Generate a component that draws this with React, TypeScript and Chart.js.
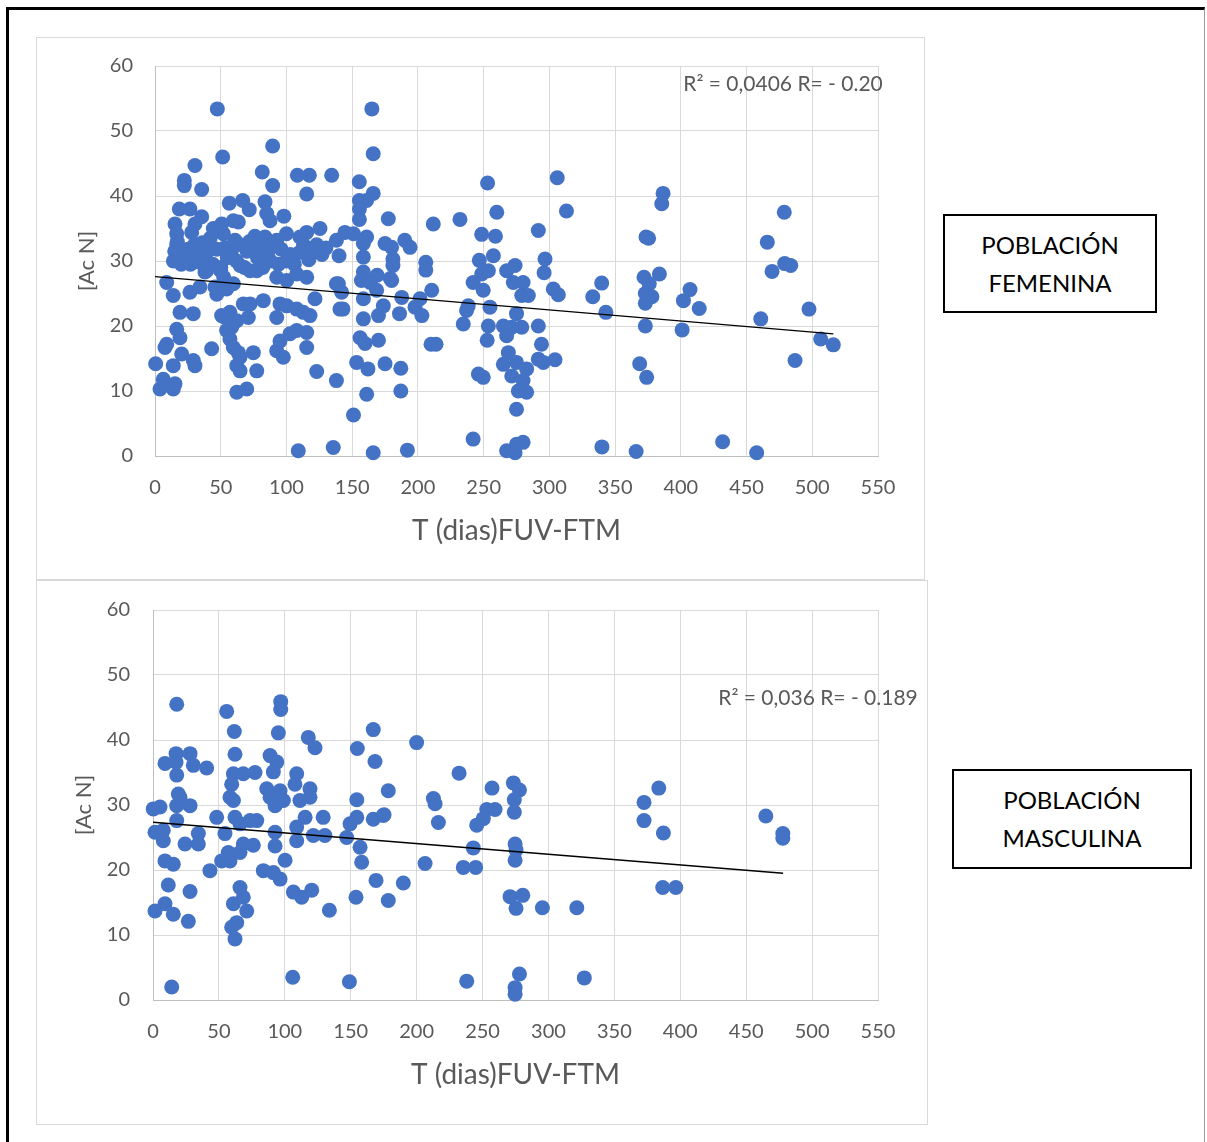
import React, { useEffect, useRef } from "react";
import { Chart, registerables } from "chart.js";

Chart.register(...registerables);

// ---------- DATA ----------
const xTickValues = [0, 50, 100, 150, 200, 250, 300, 350, 400, 450, 500, 550];
const yTickValues = [0, 10, 20, 30, 40, 50, 60];

const xAxisTitle = "T (dias)FUV-FTM";
const yAxisTitle = "[Ac N]";

const femNote = "R² = 0,0406 R= - 0.20";
const masNote = "R² = 0,036 R= - 0.189";
const femLabel = ["POBLACIÓN", "FEMENINA"];
const masLabel = ["POBLACIÓN", "MASCULINA"];

// Población femenina: T (días) and [Ac N]
const femX = [
  0.5, 3.8, 6.3, 13.9, 15.2, 7.6, 8.9, 13.9, 20.3, 29.1, 30.4, 16.5, 19, 8.9, 13.9, 19, 29.1, 26.6, 34.2,
  18.5, 26.6, 15.2, 16.5, 16.5, 27.9, 30.4, 35.5, 22.3, 22.3, 35.5, 30.4, 47.4, 51.5, 89.5, 81.6, 89.5,
  108.3, 117.4, 134.4, 115.4, 56.5, 66.7, 71.7, 83.7, 85, 87.5, 98, 44.4, 50.7, 59.6, 63.4, 52, 60.9, 57,
  76, 83.7, 92.6, 100, 110.3, 115.4, 125.5, 138,
  14, 15, 17, 20, 23, 25, 27, 30, 32, 34, 36, 38, 40, 42, 38, 44, 47, 50, 53, 55, 58, 62, 65, 68, 70, 72,
  78, 80, 82, 86, 88, 90, 94, 96, 100, 103, 106, 110, 113, 117, 120, 123, 127, 130,
  39.3, 50, 52.3, 64.7, 72.3, 77.4, 92.6, 100.2, 107.8, 115.4, 138, 47, 45.6, 54.5, 59.6,
  54.5, 57, 62.2, 71, 67.2, 72.3, 82.4, 92.6, 95.1, 100.2, 107.8, 112.8, 117.9, 121.7, 140.7,
  54.5, 57, 59.6, 63.4, 64.7, 62.2, 64.7, 77.4, 74.8, 53.3, 50.7, 58.3, 92.6, 97.6, 95.1, 102.7, 107.8,
  115.4, 115.4, 123, 43.1, 62.2, 69.8, 109, 135.6, 138,
  165, 166, 155.4, 166, 161, 155.5, 155.5, 155.5, 177.5, 211.7, 144.5, 151, 161, 140, 158.5, 158.5, 175,
  180, 190, 194, 181, 181, 179, 180, 206, 206, 210.5, 201.6, 197.8, 203, 187.7, 186, 169, 158.5, 157,
  163.6, 168.6, 158.5, 173.7, 170, 158.5, 143, 139.5, 142, 156, 159.8, 170, 153.4, 162, 175, 187, 161,
  187, 151, 166, 192, 213.8, 210,
  232, 260, 313, 291.6, 248.5, 259, 253, 306, 246.7, 248.5, 257.4, 253.6, 242, 249.7, 254.8, 238.3, 237,
  234.5, 253.6, 252.7, 246, 249.7, 242,
  267.5, 273.9, 272.6, 280, 279, 284, 275, 265, 271.4, 279, 267.5, 268.8, 265, 275, 282.7, 271.4, 280,
  276.4, 282.7, 275, 280, 275, 267.5, 273.9,
  291.6, 294, 291.6, 304.3, 295.4, 296.7, 296, 303, 306.8,
  339.8, 333, 343, 340, 366, 368.7, 374, 372, 383.7, 376, 373, 378, 373, 373, 373.5, 375.5, 386.5, 385.5,
  401, 407, 402, 414, 431.8, 457.7, 460.8, 465.8, 469.4, 478.7, 479, 483.6, 486.9, 497.5, 506.4, 516,
];
const femY = [
  14.2, 10.3, 11.8, 10.3, 11.1, 16.7, 17.2, 13.9, 15.7, 14.7, 13.9, 19.5, 18.2, 26.7, 24.7, 22.1, 21.9, 25.2, 26,
  38, 38, 35.7, 34.2, 32.6, 34.4, 35.7, 36.8, 42.4, 41.6, 41, 44.7, 53.4, 46, 47.7, 43.7, 41.6,
  43.2, 43.2, 43.2, 40.3, 38.9, 39.3, 37.9, 39.1, 37.3, 36.2, 36.9, 35, 35.7, 36.2, 36, 34.2, 33.2, 32.1,
  33.8, 33.7, 33.2, 34.2, 33.7, 34.4, 35, 33.2,
  30, 31.5, 33, 29.5, 30.5, 31.8, 29.5, 32.5, 31, 29.8, 32.8, 30, 31.5, 33.5, 28.3, 29.5, 31.8, 29, 32, 30.5,
  31, 30, 32.5, 29, 31.5, 33, 30.5, 32, 29, 31.5, 30, 32.5, 29.5, 31.8, 30, 31, 29.5, 31.3, 32.5, 30.2, 31.5,
  32.5, 31, 32,
  28.5, 28.5, 27.5, 29.3, 28.5, 28.5, 27.5, 27, 28, 27.5, 26.5, 24.9, 26, 25.7, 26.5,
  21.6, 22.1, 20.8, 21.3, 23.4, 23.4, 23.9, 21.3, 23.4, 23.1, 22.6, 22.1, 21.6, 24.2, 22.6,
  19.3, 18, 16.7, 15.9, 15.2, 13.9, 13.1, 13.1, 15.9, 21.3, 21.6, 19.8, 16.2, 15.2, 17.7, 18.8, 19.3,
  19, 16.7, 13, 16.5, 9.8, 10.3, 0.8, 1.3, 11.6,
  53.4, 46.5, 42.2, 40.4, 39.3, 39.3, 38, 36.4, 36.5, 35.7, 34.4, 34.2, 33.7, 30.8, 32.7, 30.6, 32.7,
  32.1, 33.2, 32.1, 30.3, 29.3, 27.3, 27, 29.8, 28.6, 25.5, 24.2, 22.9, 21.6, 24.4, 21.9, 27.8, 28.3, 27,
  26.7, 25.5, 24.2, 23.1, 21.6, 21.1, 22.6, 26.5, 25.2, 18.2, 17.3, 17.8, 14.4, 13.4, 14.2, 13.5, 9.5,
  10, 6.3, 0.5, 0.9, 17.2, 17.2,
  36.4, 37.5, 37.7, 34.7, 34.1, 33.8, 42, 42.8, 30.1, 28, 30.8, 28.5, 26.7, 25.5, 22.9, 23.1, 22.4,
  20.3, 20, 17.8, 12.6, 12.1, 2.6,
  28.5, 29.3, 26.7, 26.7, 24.7, 24.7, 21.9, 20, 19.8, 19.8, 18.5, 15.9, 14.1, 14.4, 13.4, 12.3, 11.6,
  10, 9.8, 7.2, 2.1, 1.8, 0.8, 0.5,
  20, 17.2, 14.9, 14.8, 14.4, 30.3, 28.2, 25.7, 24.8,
  26.6, 24.5, 22.1, 1.4, 0.7, 14.2, 12.1, 27.5, 28, 26.5, 25, 24.5, 23.5, 20, 33.7, 33.5, 40.4, 38.8,
  19.4, 25.6, 23.9, 22.7, 2.2, 0.5, 21.1, 32.9, 28.4, 37.5, 29.6, 29.3, 14.7, 22.6, 18, 17.1,
];
const femTrendX = [0, 516];
const femTrendY = [27.6, 18.8];

// Población masculina
const masX = [
  18, 55.9, 61.7, 96.9, 96.9, 95.1, 117.8, 122.9, 155, 167.1, 168.4, 178.5,
  17.5, 28.1, 9.1, 17.5, 30.6, 40.7, 18,
  62.2, 61, 68.5, 77.4, 59.7, 88.8, 93.9, 91.3, 109, 107.7, 119.1, 86.3, 96.4, 19.2, 154.6,
  0.2, 5.3, 18, 28.1, 20.5, 18, 1.5, 7.8, 7.8, 24.3, 34.4, 34.4, 48.3, 54.6, 62.2, 66, 73.6, 78.7, 61, 58.4,
  9.1, 15.4, 43.2, 52.1, 57.1, 58.4, 66, 68.5, 76.1,
  11.6, 28.1, 9.1, 1.5, 15.4, 26.8, 66, 61, 68.5, 71.1, 63.5, 59.7, 62.2, 14.2,
  83.7, 91.3, 96.4, 100.2,
  92.6, 92.6, 92.6, 88.8, 98.9, 111.5, 119.1, 109, 121.6, 130.4, 109, 115.4, 129.1, 146.9, 149.5, 157.1,
  158.3, 154.6, 167.1, 174.7,
  106.5, 112.8, 120.4, 133.8, 154, 169.2, 178.5, 106, 149,
  200, 232.2, 175.3, 212.7, 214, 216.5, 206.4, 189.9,
  257.2, 253.2, 259.5, 250.6, 245.6, 243, 235.4, 244.8,
  273.4, 278, 274.1, 274.1, 274.7, 275.4, 274.7, 270.9, 280.5, 275.4, 295.4, 321.5, 238, 278, 274.7, 274.7, 327.2,
  372.5, 372.5, 383.7, 387.2, 386.7, 396.6, 464.9, 477.8, 477.8,
];
const masY = [
  45.5, 44.4, 41.3, 45.9, 44.7, 41.1, 40.4, 38.8, 38.7, 41.6, 36.7, 32.2,
  37.9, 37.9, 36.4, 36.6, 36.1, 35.7, 34.6,
  37.8, 34.8, 34.8, 35, 33.2, 37.6, 36.6, 35.1, 34.8, 33.2, 32.5, 32.5, 32.2, 31.7, 30.8,
  29.4, 29.7, 29.9, 29.9, 31.2, 27.6, 25.8, 26.1, 24.5, 24, 25.6, 24, 28.1, 25.6, 28.1, 27.1, 27.6, 27.6, 30.7, 31.2,
  21.4, 20.9, 19.9, 21.4, 22.7, 21.4, 22.7, 24, 23.8,
  17.7, 16.7, 14.8, 13.7, 13.2, 12.1, 17.3, 14.8, 15.8, 13.7, 11.9, 11.2, 9.4, 2,
  19.9, 19.6, 18.6, 21.5,
  25.8, 23.7, 29.9, 31.2, 30.7, 30.7, 31.2, 24.5, 25.3, 25.3, 26.6, 28.1, 28.1, 25, 27.1, 23.5,
  21.2, 28.1, 27.8, 28.4,
  16.6, 15.8, 16.9, 13.8, 15.8, 18.4, 15.3, 3.5, 2.8,
  39.6, 34.9, 28.5, 31, 30.2, 27.3, 21, 18,
  32.6, 29.3, 29.3, 27.9, 26.9, 23.4, 20.4, 20.4,
  33.4, 32.3, 30.8, 28.9, 24, 23.1, 21.5, 15.9, 16.1, 14.1, 14.2, 14.2, 2.9, 4, 1.9, 0.9, 3.4,
  30.4, 27.6, 32.6, 25.7, 17.3, 17.3, 28.3, 25.6, 24.9,
];
const masTrendX = [0, 478];
const masTrendY = [27.35, 19.5];

// ---------- STYLE ----------
const FONT = "Lato, 'Noto Sans', sans-serif";
const TEXT_GRAY = "#595959";
const POINT_BLUE = "#4472c4";
const GRID = "#d9d9d9";

type PanelProps = {
  xs: number[];
  ys: number[];
  tx: number[];
  ty: number[];
  note: string;
  left: number;
  top: number;
  width: number;
  height: number;
  yAxisWidth: number;
  xAxisHeight: number;
  padRight: number;
  yTickPad: number;
  yTitleOffset: number;
  xTitleOffset: number;
  noteCX: number;
  noteCY: number;
};

function ScatterPanel(p: PanelProps) {
  const ref = useRef<HTMLCanvasElement | null>(null);
  useEffect(() => {
    if (!ref.current) return;
    const points = p.xs.map((x, i) => ({ x, y: p.ys[i] }));
    const trend = p.tx.map((x, i) => ({ x, y: p.ty[i] }));
    const notePlugin = {
      id: "note",
      afterDraw(chart: any) {
        const ctx = chart.ctx;
        ctx.save();
        ctx.font = `21px ${FONT}`;
        ctx.fillStyle = TEXT_GRAY;
        ctx.textAlign = "center";
        ctx.textBaseline = "middle";
        ctx.fillText(p.note, p.noteCX, p.noteCY);
        ctx.restore();
      },
    };
    const chart = new Chart(ref.current, {
      type: "scatter",
      data: {
        datasets: [
          {
            type: "line",
            data: trend,
            borderColor: "#000000",
            borderWidth: 1.3,
            pointRadius: 0,
            showLine: true,
            fill: false,
            order: 0,
          } as any,
          {
            data: points,
            backgroundColor: POINT_BLUE,
            borderColor: POINT_BLUE,
            borderWidth: 0,
            pointRadius: 7.5,
            clip: false,
            order: 1,
          } as any,
        ],
      },
      options: {
        animation: false,
        responsive: false,
        devicePixelRatio: 1,
        layout: { padding: { top: 0, right: p.padRight, left: 0, bottom: 0 } },
        plugins: { legend: { display: false }, tooltip: { enabled: false } },
        scales: {
          x: {
            type: "linear",
            min: 0,
            max: 550,
            afterBuildTicks: (s: any) => {
              s.ticks = xTickValues.map((v) => ({ value: v }));
            },
            afterFit: (s: any) => {
              s.height = p.xAxisHeight;
            },
            grid: { color: GRID, lineWidth: 1, drawTicks: false },
            border: { color: "#bfbfbf", width: 1 },
            ticks: {
              autoSkip: false,
              maxRotation: 0,
              padding: 20,
              color: TEXT_GRAY,
              font: { family: FONT, size: 20 },
            },
            title: {
              display: true,
              text: xAxisTitle,
              color: TEXT_GRAY,
              font: { family: FONT, size: 28 },
              padding: { top: 0, bottom: p.xTitleOffset },
            },
          },
          y: {
            type: "linear",
            min: 0,
            max: 60,
            afterBuildTicks: (s: any) => {
              s.ticks = yTickValues.map((v) => ({ value: v }));
            },
            afterFit: (s: any) => {
              s.width = p.yAxisWidth;
            },
            grid: { color: GRID, lineWidth: 1, drawTicks: false },
            border: { color: "#bfbfbf", width: 1 },
            ticks: {
              padding: p.yTickPad,
              color: TEXT_GRAY,
              font: { family: FONT, size: 20 },
            },
            title: {
              display: true,
              text: yAxisTitle,
              color: TEXT_GRAY,
              font: { family: FONT, size: 22 },
              padding: { top: p.yTitleOffset, bottom: 0 },
            },
          },
        },
      } as any,
      plugins: [notePlugin],
    });
    return () => chart.destroy();
  }, []);
  return (
    <canvas
      ref={ref}
      width={p.width}
      height={p.height}
      style={{ position: "absolute", left: p.left, top: p.top, width: p.width, height: p.height }}
    />
  );
}

function LabelBox(props: { lines: string[]; left: number; top: number; width: number; height: number }) {
  return (
    <div
      style={{
        position: "absolute",
        left: props.left,
        top: props.top,
        width: props.width,
        height: props.height,
        boxSizing: "border-box",
        border: "2px solid #000",
        display: "flex",
        flexDirection: "column",
        alignItems: "center",
        justifyContent: "center",
        fontFamily: FONT,
        fontSize: 24,
        lineHeight: "38px",
        color: "#000",
        background: "#fff",
      }}
    >
      {props.lines.map((l) => (
        <div key={l}>{l}</div>
      ))}
    </div>
  );
}

export default function App() {
  return (
    <div style={{ position: "absolute", left: 0, top: 0, width: 1207, height: 1142, background: "#fff", overflow: "hidden" }}>
      <div
        style={{
          position: "absolute",
          left: 6,
          top: 7,
          width: 1199,
          height: 1140,
          boxSizing: "border-box",
          borderTop: "3px solid #000",
          borderLeft: "3px solid #000",
          borderRight: "1px solid #999",
        }}
      />
      <div style={{ position: "absolute", left: 36, top: 37, width: 889, height: 543, boxSizing: "border-box", border: "1px solid #d9d9d9" }} />
      <div style={{ position: "absolute", left: 36, top: 580, width: 892, height: 545, boxSizing: "border-box", border: "1px solid #d9d9d9" }} />
      <ScatterPanel
        xs={femX}
        ys={femY}
        tx={femTrendX}
        ty={femTrendY}
        note={femNote}
        left={36}
        top={32}
        width={889}
        height={548}
        yAxisWidth={119}
        xAxisHeight={124}
        padRight={47}
        yTickPad={22}
        yTitleOffset={38}
        xTitleOffset={32}
        noteCX={747}
        noteCY={52}
      />
      <ScatterPanel
        xs={masX}
        ys={masY}
        tx={masTrendX}
        ty={masTrendY}
        note={masNote}
        left={36}
        top={575}
        width={892}
        height={550}
        yAxisWidth={117}
        xAxisHeight={125}
        padRight={50}
        yTickPad={23}
        yTitleOffset={35}
        xTitleOffset={33}
        noteCX={782}
        noteCY={123}
      />
      <LabelBox lines={femLabel} left={943} top={214} width={214} height={99} />
      <LabelBox lines={masLabel} left={952} top={769} width={240} height={100} />
    </div>
  );
}
